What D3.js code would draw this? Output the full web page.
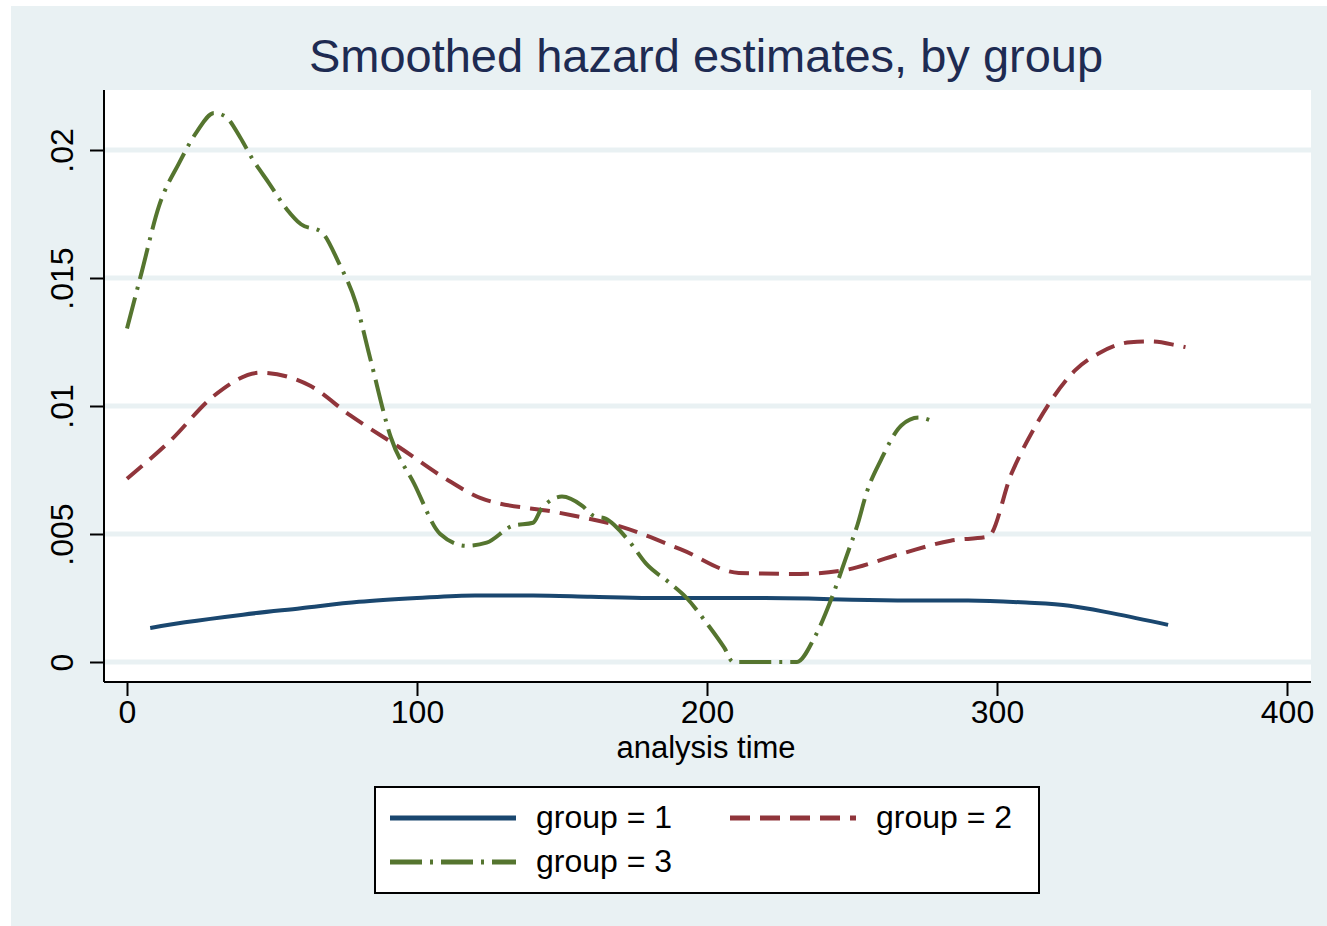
<!DOCTYPE html>
<html>
<head>
<meta charset="utf-8">
<script src="https://cdn.jsdelivr.net/npm/d3@7"></script>
<style>
  body { margin: 0; background: #ffffff; }
  text { font-family: "Liberation Sans", Arial, sans-serif; }
</style>
</head>
<body>
<svg class="hazard-chart" width="1327" height="926"></svg>
<script>

// smoothed hazard values (analysis time, hazard)
const group1Time = [8, 20, 40, 60, 80, 100, 120, 140, 160, 180, 200, 220, 235, 250, 270, 290, 310, 325, 340, 359];
const group1Hazard = [0.00133, 0.00155, 0.00185, 0.0021, 0.00235, 0.0025, 0.0026, 0.0026, 0.00255, 0.0025, 0.0025, 0.0025, 0.00248, 0.00243, 0.0024, 0.0024, 0.00232, 0.0022, 0.0019, 0.00145];

const group2Time = [0, 15, 30, 46, 63, 77, 94, 111, 122, 149, 170, 191, 211, 232, 246, 267, 284, 297, 305, 313, 318, 327, 335, 346, 353, 362, 365];
const group2Hazard = [0.00716, 0.00865, 0.0104, 0.0113, 0.0108, 0.00963, 0.00838, 0.00708, 0.0064, 0.00583, 0.0053, 0.0044, 0.00348, 0.00344, 0.00356, 0.00423, 0.00474, 0.0049, 0.00736, 0.00916, 0.0101, 0.0114, 0.01205, 0.01249, 0.01252, 0.01237, 0.0123];

const group3Time = [0, 5, 11, 18, 24, 30, 34, 39, 43, 49, 55, 60, 67, 73, 79, 84, 91, 99, 108, 117, 124, 133, 140, 143, 150, 157, 161, 165, 173, 179, 187, 193, 200, 206, 209, 220, 231, 237, 243, 248, 252, 255, 260, 267, 273, 278];
const group3Hazard = [0.01303, 0.0152, 0.0178, 0.0195, 0.0207, 0.02145, 0.0213, 0.0205, 0.0197, 0.0187, 0.0177, 0.0171, 0.0168, 0.0156, 0.0140, 0.0118, 0.00877, 0.00697, 0.005, 0.00454, 0.00466, 0.00532, 0.00544, 0.006, 0.00646, 0.0061, 0.0057, 0.0056, 0.00474, 0.00384, 0.0031, 0.0025, 0.0015, 0.00055, 0, 0, 0, 0.00094, 0.0025, 0.0041, 0.0054, 0.0066, 0.0079, 0.00924, 0.00955, 0.0094];

const xTicks = [0, 100, 200, 300, 400];
const yTicks = [0, 0.005, 0.01, 0.015, 0.02];
const yTickLabels = ["0", ".005", ".01", ".015", ".02"];
const groupLabels = ["group = 1", "group = 2", "group = 3"];

const svg = d3.select("svg.hazard-chart");

// outer graph region
svg.append("rect")
    .attr("x", 11).attr("y", 6)
    .attr("width", 1316).attr("height", 920)
    .style("fill", "#e9f1f3");

// plot region
const plotLeft = 104, plotRight = 1311, plotTop = 90, plotBottom = 682;
svg.append("rect")
    .attr("x", plotLeft).attr("y", plotTop)
    .attr("width", plotRight - plotLeft).attr("height", plotBottom - plotTop)
    .style("fill", "#ffffff");

const xScale = d3.scaleLinear().domain([0, 400]).range([127, 1287]);
const yScale = d3.scaleLinear().domain([0, 0.02]).range([662, 150]);

// grid lines
svg.selectAll("line.grid")
    .data(yTicks)
    .enter()
    .append("line")
    .attr("class", "grid")
    .attr("x1", plotLeft).attr("x2", plotRight)
    .attr("y1", d => yScale(d)).attr("y2", d => yScale(d))
    .style("stroke", "#e9f1f3")
    .style("stroke-width", 5);

// title
svg.append("text")
    .attr("x", 706).attr("y", 72)
    .attr("text-anchor", "middle")
    .style("font-size", "47px")
    .style("fill", "#1e2b52")
    .text("Smoothed hazard estimates, by group");

// axes
const xAxis = d3.axisBottom(xScale).tickValues(xTicks).tickSize(14).tickPadding(5).tickFormat(d3.format("d"));
const xAxisG = svg.append("g")
    .attr("transform", `translate(0, ${plotBottom})`)
    .call(xAxis);
xAxisG.select(".domain").attr("d", `M${plotLeft},0H${plotRight}`);

const yAxis = d3.axisLeft(yScale).tickValues(yTicks).tickSize(14).tickFormat((d, i) => yTickLabels[i]);
const yAxisG = svg.append("g")
    .attr("transform", `translate(${plotLeft}, 0)`)
    .call(yAxis);
yAxisG.select(".domain").attr("d", `M0,${plotTop}V${plotBottom}`);

[xAxisG, yAxisG].forEach(g => {
    g.select(".domain").style("stroke", "#000").style("stroke-width", 2);
    g.selectAll(".tick line").style("stroke", "#000").style("stroke-width", 2);
    g.selectAll(".tick text")
        .style("font-size", "32px")
        .style("font-family", "'Liberation Sans', Arial, sans-serif")
        .style("fill", "#000");
});
xAxisG.selectAll(".tick text").attr("dy", "0.68em");

// rotated y labels
yAxisG.selectAll(".tick text")
    .attr("x", null).attr("dy", null)
    .attr("text-anchor", "middle")
    .attr("transform", "translate(-31, 0) rotate(-90)");

svg.append("text")
    .attr("x", 706).attr("y", 758)
    .attr("text-anchor", "middle")
    .style("font-size", "31px")
    .style("fill", "#000")
    .text("analysis time");

// series
const lineGen = d3.line()
    .x(d => xScale(d[0]))
    .y(d => yScale(d[1]))
    .curve(d3.curveMonotoneX);

const seriesList = [
    {time: group1Time, hazard: group1Hazard, color: "#1a476f", dash: null},
    {time: group2Time, hazard: group2Hazard, color: "#90353b", dash: "20,10"},
    {time: group3Time, hazard: group3Hazard, color: "#55752f", dash: "32,8,3,8"}
];

seriesList.forEach(s => {
    const points = s.time.map((t, i) => [t, s.hazard[i]]);
    svg.append("path")
        .datum(points)
        .attr("d", lineGen)
        .style("fill", "none")
        .style("stroke", s.color)
        .style("stroke-width", 4)
        .style("stroke-dasharray", s.dash);
});

// legend
svg.append("rect")
    .attr("x", 375).attr("y", 787)
    .attr("width", 664).attr("height", 106)
    .style("fill", "#ffffff")
    .style("stroke", "#000")
    .style("stroke-width", 2);

const legendPos = [
    {x: 390, y: 818},
    {x: 730, y: 818},
    {x: 390, y: 862}
];

seriesList.forEach((s, i) => {
    const p = legendPos[i];
    svg.append("line")
        .attr("x1", p.x).attr("x2", p.x + 126)
        .attr("y1", p.y).attr("y2", p.y)
        .style("stroke", s.color)
        .style("stroke-width", 5)
        .style("stroke-dasharray", s.dash);
    svg.append("text")
        .attr("x", p.x + 146).attr("y", p.y + 10)
        .style("font-size", "32px")
        .style("fill", "#000")
        .text(groupLabels[i]);
});

</script>
</body>
</html>
